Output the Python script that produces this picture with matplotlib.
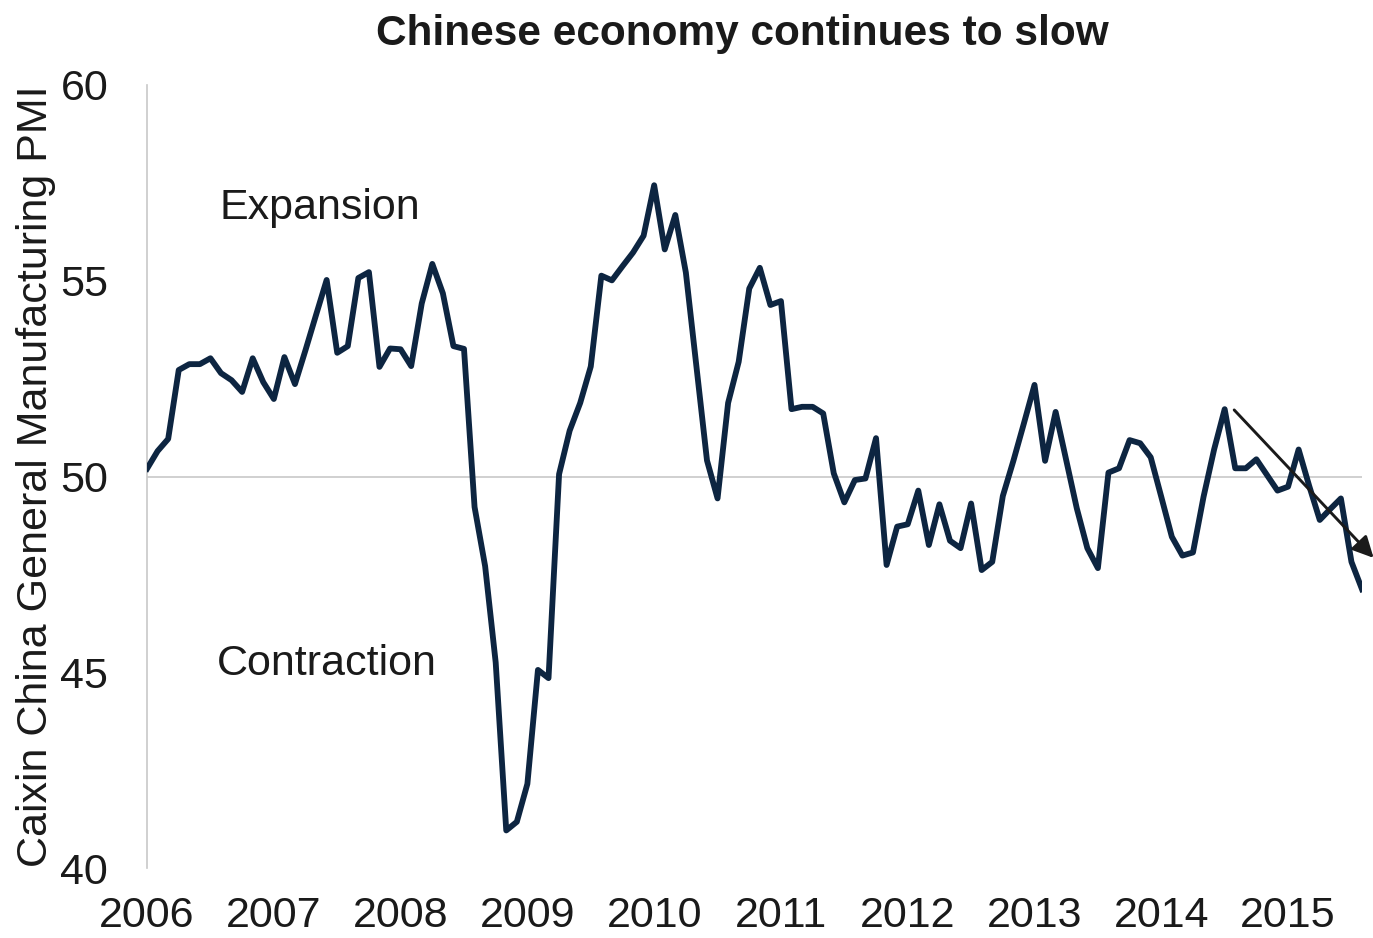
import matplotlib.pyplot as plt
import numpy as np

plt.rcParams['font.family'] = ['Liberation Sans', 'DejaVu Sans']

# Caixin China General Manufacturing PMI, monthly Jan 2006 - Aug 2015
pmi_2006 = [50.2, 50.65, 50.96, 52.72, 52.87, 52.87, 53.02, 52.64, 52.46, 52.16, 53.02, 52.41]
pmi_2007 = [51.98, 53.05, 52.36, 53.23, 54.13, 55.02, 53.16, 53.33, 55.07, 55.22, 52.80, 53.27]
pmi_2008 = [53.25, 52.82, 54.42, 55.43, 54.68, 53.33, 53.26, 49.22, 47.71, 45.25, 40.96, 41.18]
pmi_2009 = [42.15, 45.06, 44.85, 50.06, 51.17, 51.88, 52.81, 55.13, 55.01, 55.37, 55.72, 56.15]
pmi_2010 = [57.44, 55.80, 56.68, 55.21, 52.81, 50.41, 49.44, 51.88, 52.93, 54.80, 55.33, 54.38]
pmi_2011 = [54.48, 51.72, 51.78, 51.78, 51.61, 50.08, 49.34, 49.91, 49.95, 50.98, 47.74, 48.72]
pmi_2012 = [48.78, 49.64, 48.25, 49.29, 48.36, 48.17, 49.31, 47.61, 47.82, 49.50, 50.40, 51.36]
pmi_2013 = [52.34, 50.40, 51.65, 50.42, 49.19, 48.17, 47.66, 50.10, 50.21, 50.93, 50.85, 50.49]
pmi_2014 = [49.48, 48.46, 47.98, 48.06, 49.48, 50.69, 51.72, 50.21, 50.21, 50.44, 50.04, 49.64]
pmi_2015 = [49.74, 50.69, 49.76, 48.89, 49.17, 49.44, 47.82, 47.12]

years = ['2006', '2007', '2008', '2009', '2010', '2011', '2012', '2013', '2014', '2015']

pmi = pmi_2006 + pmi_2007 + pmi_2008 + pmi_2009 + pmi_2010 + pmi_2011 + pmi_2012 + pmi_2013 + pmi_2014 + pmi_2015
months = np.arange(len(pmi))

# trend arrow (month index, PMI)
arrow_start = (102.9, 51.7)
arrow_end = (116.1, 47.92)

fig = plt.figure(figsize=(13.73, 9.38), dpi=100)
ax = fig.add_axes([0.1071, 0.0746, 0.8849, 0.8348])

ax.axhline(50, color='#c8c8c8', lw=1.2, zorder=1)
ax.plot(months, pmi, color='#0d2541', lw=4.2, solid_joinstyle='round', zorder=3)

ax.annotate('', xy=arrow_end, xytext=arrow_start, annotation_clip=False,
            arrowprops=dict(arrowstyle='-|>', color='#1a1a1a', lw=2.1, mutation_scale=32,
                            shrinkA=0, shrinkB=0), zorder=4)

ax.text(6.9, 56.85, 'Expansion', fontsize=31, va='center', ha='left', color='#1a1a1a')
ax.text(6.6, 45.2, 'Contraction', fontsize=31, va='center', ha='left', color='#1a1a1a')

ax.set_xlim(0, len(pmi) - 1)
ax.set_ylim(40, 60)
ax.set_yticks([40, 45, 50, 55, 60])
ax.set_xticks(np.arange(len(years)) * 12)
ax.set_xticklabels(years)
ax.tick_params(axis='both', length=0, labelsize=31, colors='#1a1a1a')
ax.tick_params(axis='x', pad=20)
ax.tick_params(axis='y', pad=28)

for side in ['top', 'right', 'bottom']:
    ax.spines[side].set_visible(False)
ax.spines['left'].set_color('#c8c8c8')
ax.spines['left'].set_linewidth(1.2)

ax.set_ylabel('Caixin China General Manufacturing PMI', fontsize=31, color='#1a1a1a')
ax.yaxis.set_label_coords(-0.075, 0.5)

fig.text(0.5404, 0.964, 'Chinese economy continues to slow', fontsize=30.5, fontweight='bold',
         ha='center', va='center', color='#1a1a1a')

fig.savefig('out.png', dpi=100)
